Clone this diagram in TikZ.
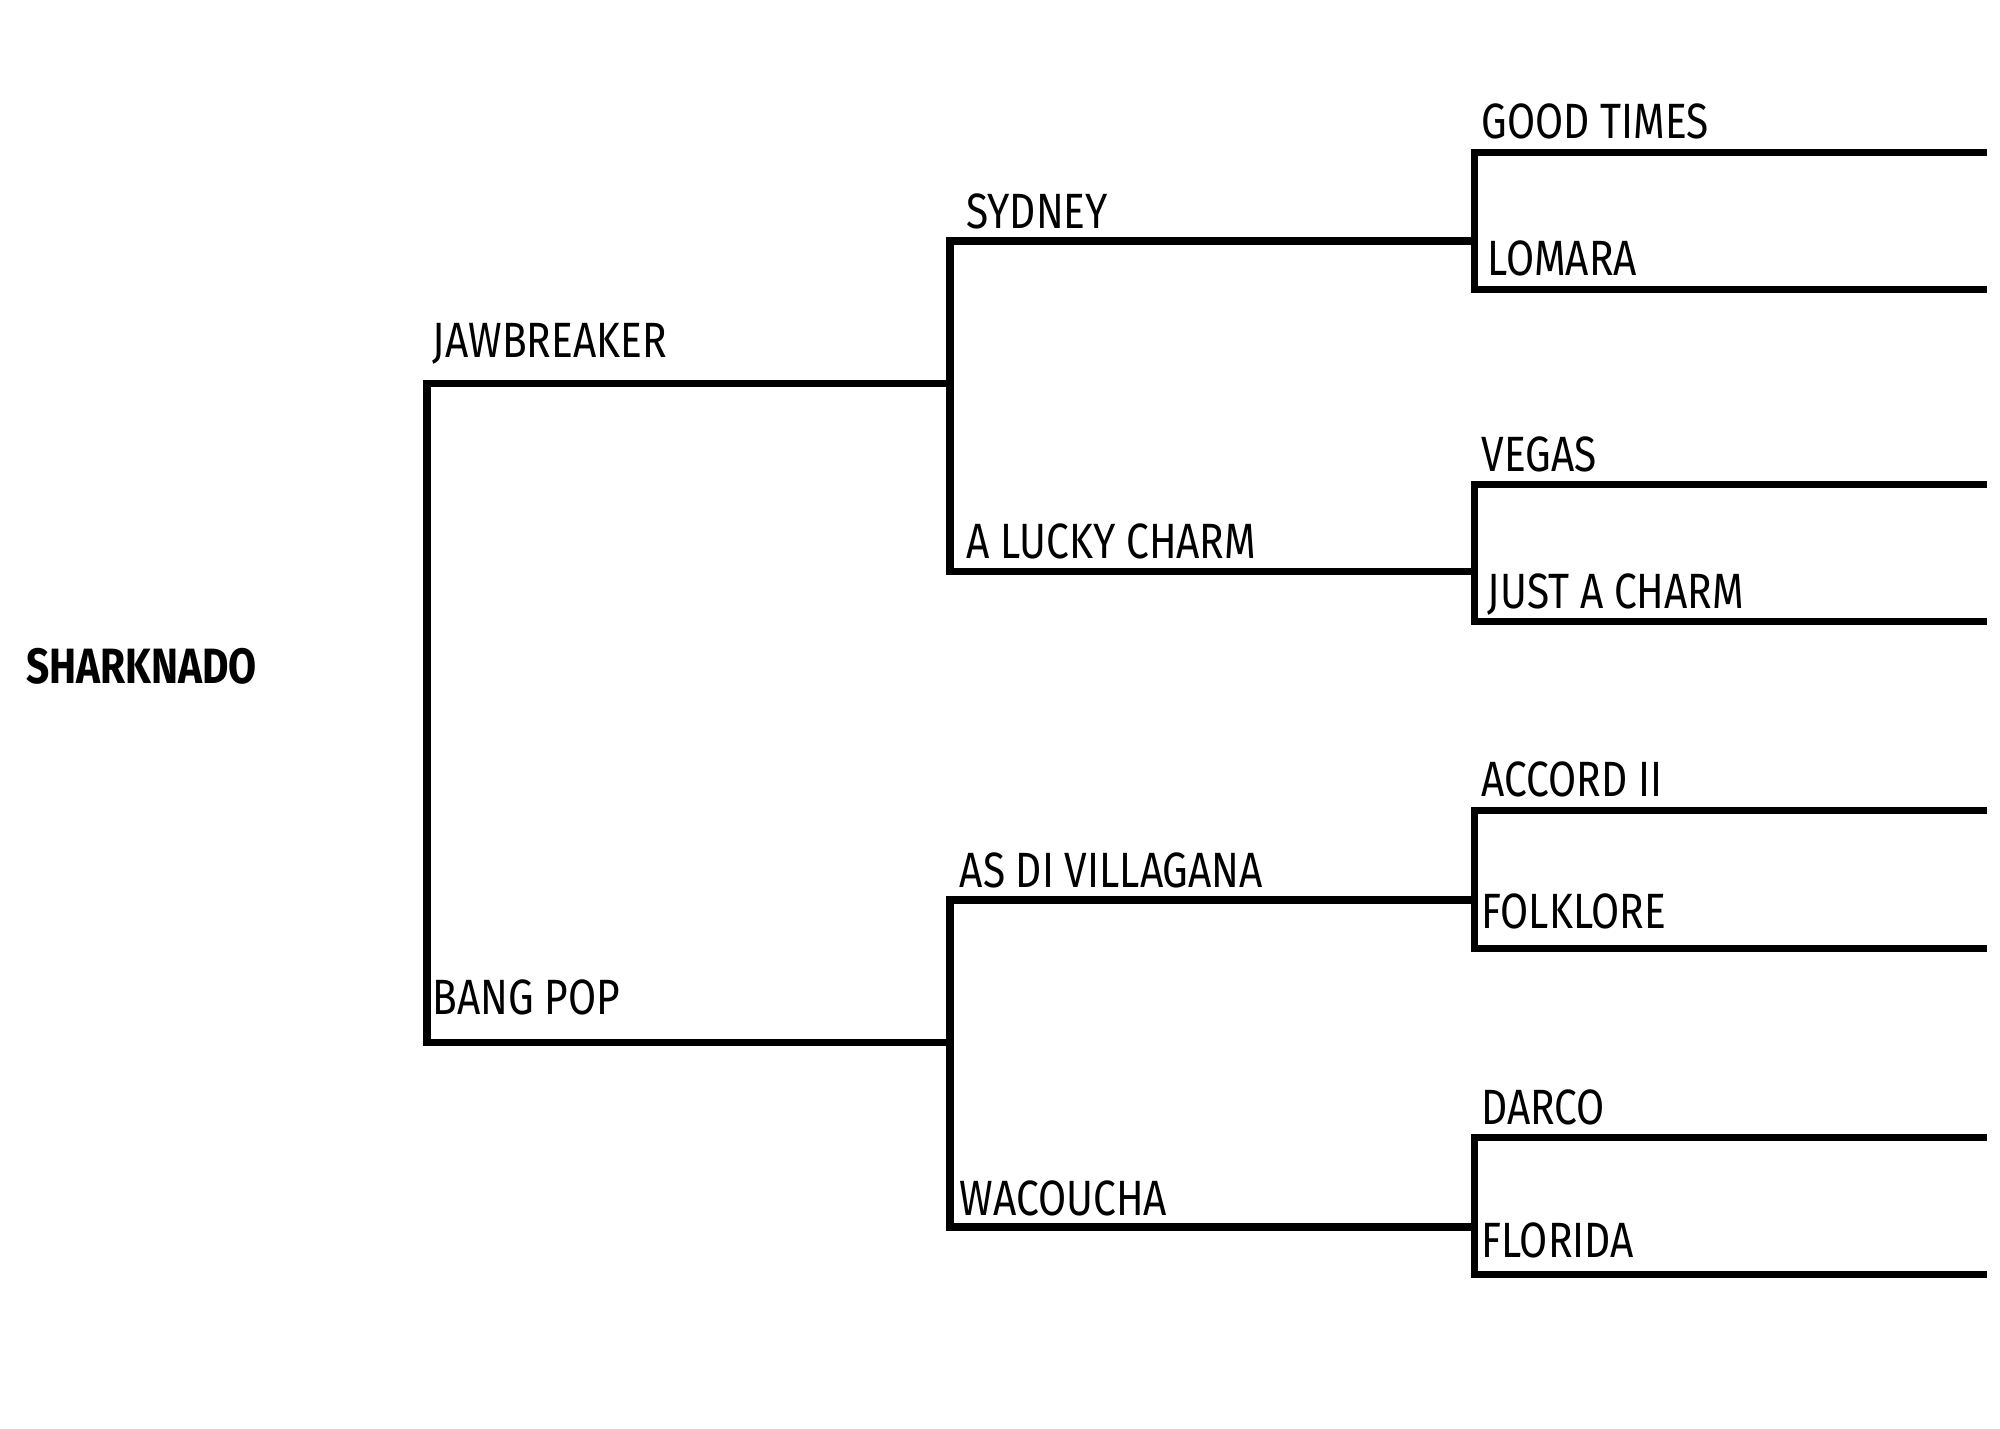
\documentclass[tikz,border=0pt]{standalone}
\usepackage{fontspec}
\setmainfont{Fira Sans}
\usetikzlibrary{calc}
\begin{document}
\begin{tikzpicture}[x=0.01cm,y=-0.01cm,
  line/.style={line width=1.6pt},
  entry/.style={anchor=base west,inner sep=0pt,font=\fontsize{11pt}{12pt}\selectfont,xscale=0.82}
]
\useasboundingbox (0,0) rectangle (1560,1114);
% final
\node[entry,font=\fontsize{11pt}{12pt}\selectfont\bfseries] (win) at (20,533) {SHARKNADO};
% semifinal
\coordinate (s1) at (333,299); \coordinate (s2) at (333,813);
\draw[line] (741,299) -- (s1) -- (s2) -- (741,813);
\node[entry] (jaw) at (337,279) {JAWBREAKER};
\node[entry] (ban) at (337,791) {BANG POP};
% quarterfinal
\foreach \ya/\yb in {188/446, 702/957}
  \draw[line] (1150,\ya) -- (741,\ya) -- (741,\yb) -- (1150,\yb);
\node[entry] (syd) at (753,178) {SYDNEY};
\node[entry] (luc) at (753,436) {A LUCKY CHARM};
\node[entry] (asd) at (748,692) {AS DI VILLAGANA};
\node[entry] (wac) at (748,948) {WACOUCHA};
% first round
\foreach \ya/\yb in {119/226, 378/485, 632/740, 887/994}
  \draw[line] (1550,\ya) -- (1150,\ya) -- (1150,\yb) -- (1550,\yb);
\node[entry] (goo) at (1155,108) {GOOD TIMES};
\node[entry] (lom) at (1160,215) {LOMARA};
\node[entry] (veg) at (1155,368) {VEGAS};
\node[entry] (jus) at (1160,475) {JUST A CHARM};
\node[entry] (acc) at (1155,621) {ACCORD II};
\node[entry] (fol) at (1155,724) {FOLKLORE};
\node[entry] (dar) at (1155,877) {DARCO};
\node[entry] (flo) at (1155,981) {FLORIDA};
\end{tikzpicture}
\end{document}
